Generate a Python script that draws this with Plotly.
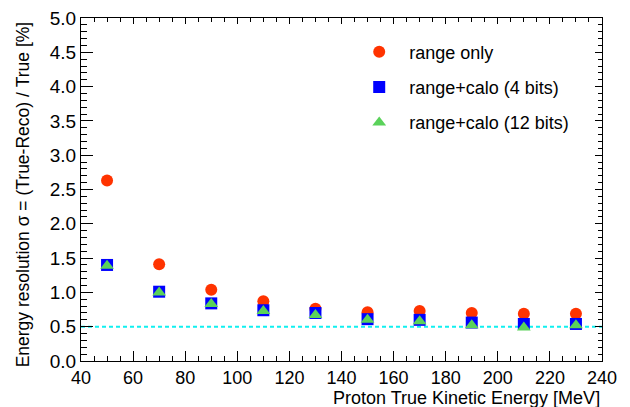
import plotly.graph_objects as go

energy = [50, 70, 90, 110, 130, 150, 170, 190, 210, 230]
range_only = [2.63, 1.41, 1.04, 0.87, 0.76, 0.71, 0.73, 0.70, 0.69, 0.69]
calo_4bits = [1.40, 1.01, 0.84, 0.74, 0.70, 0.61, 0.60, 0.56, 0.54, 0.54]
calo_12bits = [1.39, 1.00, 0.83, 0.73, 0.67, 0.60, 0.58, 0.52, 0.49, 0.52]
names = ["range only", "range+calo (4 bits)", "range+calo (12 bits)"]
ref_level = 0.5

FONT = "Liberation Sans, Arial, sans-serif"
PAD = "\u00a0\u00a0"

fig = go.Figure()
fig.add_trace(go.Scatter(x=energy, y=range_only, mode="markers", name=PAD + names[0], legendgroup="a",
                         marker=dict(symbol="circle", size=12, color="#ff3300", line=dict(width=0))))
fig.add_trace(go.Scatter(x=energy, y=calo_4bits, mode="markers", name=PAD + names[1], legendgroup="b",
                         marker=dict(symbol="square", size=12, color="#0000ff", line=dict(width=0))))
fig.add_trace(go.Scatter(x=energy, y=calo_12bits, mode="markers", name=PAD + names[2], legendgroup="c",
                         marker=dict(symbol="triangle-up", size=12, color="#5ad25a", line=dict(width=0))))

fig.add_shape(type="line", x0=40, x1=240, y0=ref_level, y1=ref_level, xref="x", yref="y",
              line=dict(color="#10f0f0", width=2, dash="4px,3px"), layer="below")

axis_common = dict(showgrid=False, zeroline=False, showline=True, linecolor="black", linewidth=1,
                   ticks="inside", tickcolor="black", tickwidth=1, ticklabeloverflow="allow")

fig.update_xaxes(range=[40, 240], dtick=20, tick0=40, ticklen=10,
                 tickfont=dict(family=FONT, size=18, color="black"),
                 minor=dict(dtick=5, ticks="inside", ticklen=5, tickcolor="black"),
                 **axis_common)
fig.update_yaxes(range=[0, 5], dtick=0.5, tick0=0, ticklen=12, tickformat=".1f",
                 tickfont=dict(family=FONT, size=19, color="black"),
                 minor=dict(dtick=0.1, ticks="inside", ticklen=6, tickcolor="black"),
                 **axis_common)

# mirrored axes (top / right) carrying the tick marks only
fig.update_layout(
    xaxis2=dict(overlaying="x", side="top", range=[40, 240], dtick=20, tick0=40,
                showgrid=False, zeroline=False, showline=True, linecolor="black",
                ticks="inside", ticklen=6, tickcolor="black", showticklabels=False,
                minor=dict(dtick=5, ticks="inside", ticklen=4, tickcolor="black")),
    yaxis2=dict(overlaying="y", side="right", range=[0, 5], dtick=0.5, tick0=0,
                showgrid=False, zeroline=False, showline=True, linecolor="black",
                ticks="inside", ticklen=7, tickcolor="black", showticklabels=False,
                minor=dict(dtick=0.1, ticks="inside", ticklen=4, tickcolor="black")),
)
fig.add_trace(go.Scatter(x=[None], y=[None], xaxis="x2", yaxis="y2", showlegend=False, hoverinfo="skip"))

fig.add_annotation(text="Proton True Kinetic Energy [MeV]", xref="paper", yref="paper",
                   x=1.0, y=-0.073, xanchor="right", yanchor="top", showarrow=False,
                   font=dict(family=FONT, size=18, color="black"))
fig.add_annotation(text="Energy resolution σ = (True-Reco) / True [%]", xref="paper", yref="paper",
                   x=-0.112, y=0.995, xanchor="center", yanchor="top", textangle=-90, showarrow=False,
                   font=dict(family=FONT, size=17.5, color="black"))

fig.update_layout(
    width=630, height=407,
    margin=dict(l=81, r=28, t=8, b=46),
    paper_bgcolor="white", plot_bgcolor="white",
    showlegend=True,
    legend=dict(x=0.534, y=0.955, xanchor="left", yanchor="top", bgcolor="rgba(0,0,0,0)",
                font=dict(family=FONT, size=18, color="black"), tracegroupgap=9,
                itemsizing="constant"),
)

fig.write_html("out.html")
